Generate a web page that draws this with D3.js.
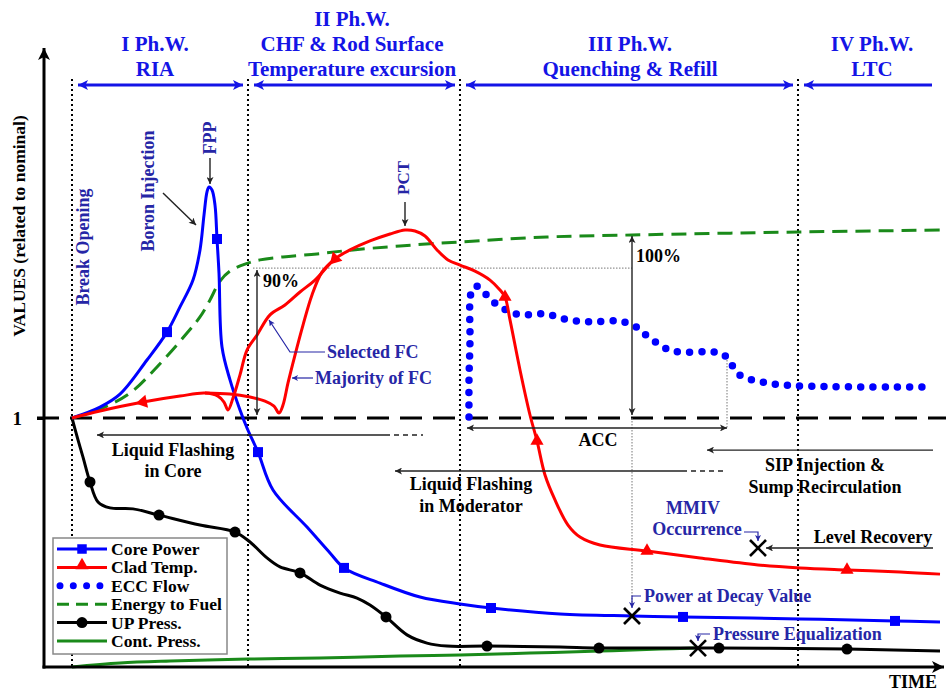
<!DOCTYPE html>
<html>
<head>
<meta charset="utf-8">
<script src="https://cdn.jsdelivr.net/npm/d3@7"></script>
<style>
  body { margin: 0; background: #fff; }
  svg { display: block; }
  text { font-family: "Liberation Serif", "Times New Roman", serif; font-weight: bold; }
</style>
</head>
<body>
<svg id="chart" width="946" height="694"></svg>
<script>
// ---- Series: [time (arb. units), value relative to nominal] ----
const corePower = [
  [7,1.000],[14,1.044],[19,1.096],[25.75,1.233],[30.75,1.345],[34,1.446],[37.25,1.554],
  [39,1.675],[40,1.815],[40.75,1.908],[41.25,1.928],[42,1.916],[42.75,1.855],[43.25,1.719],
  [43.75,1.582],[44.5,1.285],[46.5,1.153],[49,1.032],[50.75,0.960],[53.5,0.863],[57.25,0.711],
  [65.75,0.562],[71.5,0.458],[75,0.398],[84,0.337],[94,0.281],[104,0.253],[111.75,0.237],
  [129,0.213],[147,0.205],[159.75,0.201],[189,0.193],[212.75,0.185],[224,0.181]
];
const coreMarkers = [30.75, 43.25, 53.5, 75, 111.75, 159.75, 212.75];

const energyToFuel = [
  [7,1.000],[14,1.036],[21.5,1.100],[28.25,1.205],[35.75,1.341],[39,1.406],[41.5,1.474],
  [44,1.550],[46.5,1.590],[50.25,1.618],[54,1.635],[59.75,1.647],[68.25,1.659],[77.25,1.675],
  [89,1.691],[104,1.707],[125.75,1.727],[147,1.735],[188.5,1.747],[224,1.755]
];

// Clad temperature: selected fuel channel (continues into the common trend)
const cladSelected = [
  [7,1.000],[14,1.028],[24.75,1.064],[34,1.088],[40.25,1.100],[43.5,1.088],[45,1.064],
  [46,1.032],[47.25,1.080],[49,1.173],[50.75,1.273],[53.25,1.333],[56.5,1.414],[60.25,1.454],
  [64,1.506],[67.75,1.554],[72.75,1.639],[76.5,1.675],[81.5,1.711],[86.5,1.739],[90.25,1.755],
  [92.75,1.751],[95.25,1.731],[98.25,1.675],[101,1.635],[104,1.614],[107.75,1.590],
  [111.5,1.554],[114,1.514],[115.25,1.486],[116.5,1.394],[119,1.193],[121.5,1.012],
  [123.25,0.908],[125.25,0.771],[127.75,0.671],[131,0.570],[134,0.522],[139,0.490],
  [150.75,0.466],[164,0.438],[178.5,0.410],[189,0.398],[200.75,0.390],[214,0.382],[224,0.373]
];
// Clad temperature: majority of fuel channels (branch joining the common trend)
const cladMajority = [
  [40.25,1.100],[46.5,1.096],[51.5,1.084],[55.25,1.068],[57.5,1.048],[58.75,1.020],
  [59.75,1.052],[61,1.141],[62.75,1.253],[64.75,1.373],[67,1.494],[69.5,1.586],[72.75,1.639]
];
const cladMarkers = [24.75, 72.75, 115.25, 123.25, 150.75, 200.75];

const eccFlow = [
  [106.25,1.004],[106.25,1.153],[106.5,1.313],[106.5,1.474],[107,1.514],[108,1.530],
  [109.5,1.514],[111.5,1.478],[113.75,1.450],[116.5,1.426],[119.25,1.414],[125.25,1.418],
  [131,1.394],[137,1.386],[142.75,1.390],[145.75,1.382],[148.5,1.361],[150.75,1.329],
  [153.25,1.301],[155.75,1.277],[158.75,1.265],[167.75,1.265],[170,1.253],[171.5,1.225],
  [173.5,1.177],[176.25,1.157],[179.25,1.145],[182.25,1.137],[188.25,1.129],[221.5,1.124]
];

const upPress = [
  [7,1.000],[8.5,0.912],[9.75,0.843],[11.5,0.743],[13.5,0.663],[16.5,0.639],[22.25,0.635],
  [28.75,0.610],[39,0.570],[47.75,0.542],[51.5,0.502],[55.75,0.438],[59,0.402],[64,0.378],
  [69,0.329],[74,0.297],[78.25,0.277],[81.5,0.249],[85.5,0.201],[90.75,0.129],[95.75,0.096],
  [100.75,0.084],[110.75,0.084],[129,0.080],[138.75,0.076],[168.75,0.076],[200.75,0.072],[224,0.064]
];
const upMarkers = [11.5, 28.75, 47.75, 64, 85.5, 110.75, 138.75, 168.75, 200.75];

const contPress = [
  [7,0.000],[19,0.016],[31.5,0.024],[51,0.032],[69,0.036],[89,0.044],[104,0.048],
  [121.5,0.056],[139,0.064],[154,0.072],[162.75,0.076]
];

// Phase window boundaries (time) and titles
const phaseBounds = [7, 51, 104, 188.5];
const phaseTitles = [
  ["I Ph.W.", "RIA"],
  ["II Ph.W.", "CHF & Rod Surface", "Temperature excursion"],
  ["III Ph.W.", "Quenching & Refill"],
  ["IV Ph.W.", "LTC"]
];

// Events marked with a cross: [time, value]
const decayPoint = [147, 0.205];
const mmivPoint = [178.5, 0.478];
const pressEqPoint = [163.5, 0.076];

const yTicks = [1];
const legendItems = ["Core Power", "Clad Temp.", "ECC Flow", "Energy to Fuel", "UP Press.", "Cont. Press."];

// ---- Setup ----
const svg = d3.select("#chart");
const x = d3.scaleLinear().domain([0, 225]).range([44, 944]);
const y = d3.scaleLinear().domain([0, 2.49]).range([667, 47]);

const BLUE = "#0000ff", RED = "#ff0000", GREEN = "#1a8a1a", NAVY = "#2626a6", HEAD = "#1414e6";

const defs = svg.append("defs");
function arrowMarker(id, color, w, h) {
  defs.append("marker")
    .attr("id", id).attr("viewBox", "0 0 10 10")
    .attr("refX", 10).attr("refY", 5)
    .attr("markerWidth", w).attr("markerHeight", h)
    .attr("markerUnits", "userSpaceOnUse")
    .attr("orient", "auto-start-reverse")
    .append("path").attr("d", "M0,0L10,5L0,10L2.5,5Z").attr("fill", color);
}
arrowMarker("arrK", "#222", 9, 7);
arrowMarker("arrN", NAVY, 8, 6);
arrowMarker("arrB", HEAD, 13, 10);
arrowMarker("arrAx", "#000", 14, 12);

svg.append("rect").attr("width", 946).attr("height", 694).attr("fill", "#fff");

const line = d3.line().x(d => x(d[0])).y(d => y(d[1])).curve(d3.curveCatmullRom.alpha(0.5));
const at = (arr, t) => arr.find(d => d[0] === t);

// ---- Phase separators ----
const plotTop = 79;
svg.append("g").selectAll("line").data(phaseBounds).join("line")
  .attr("x1", d => x(d)).attr("x2", d => x(d))
  .attr("y1", plotTop).attr("y2", y(0))
  .attr("stroke", "#000").attr("stroke-width", 2).attr("stroke-dasharray", "2 3");

// ---- Nominal level ----
svg.append("line")
  .attr("x1", x(0) - 7).attr("x2", 946).attr("y1", y(1)).attr("y2", y(1))
  .attr("stroke", "#000").attr("stroke-width", 3).attr("stroke-dasharray", "22 11");

// ---- Thin guide lines ----
const guide = svg.append("g").attr("stroke", "#777").attr("stroke-width", 1).attr("stroke-dasharray", "1.5 1.5").attr("fill", "none");
guide.append("line").attr("x1", x(52.25)).attr("x2", x(147)).attr("y1", y(1.602)).attr("y2", y(1.602));
guide.append("line").attr("x1", x(147)).attr("x2", x(147)).attr("y1", y(1)).attr("y2", y(decayPoint[1]) - 10);
guide.append("line").attr("x1", x(170.75)).attr("x2", x(170.75)).attr("y1", y(1.245)).attr("y2", y(0.96));

// ---- Series ----
svg.append("path").attr("d", line(contPress)).attr("fill", "none").attr("stroke", GREEN).attr("stroke-width", 3);
svg.append("path").attr("d", line(upPress)).attr("fill", "none").attr("stroke", "#000").attr("stroke-width", 3);
svg.append("g").selectAll("circle").data(upMarkers.map(t => at(upPress, t))).join("circle")
  .attr("cx", d => x(d[0])).attr("cy", d => y(d[1])).attr("r", 5.5).attr("fill", "#000");

svg.append("path").attr("d", line(energyToFuel)).attr("fill", "none").attr("stroke", GREEN)
  .attr("stroke-width", 3).attr("stroke-dasharray", "15 8");

svg.append("path").attr("d", line(corePower)).attr("fill", "none").attr("stroke", BLUE).attr("stroke-width", 3);
svg.append("g").selectAll("path").data(coreMarkers.map(t => at(corePower, t))).join("path")
  .attr("d", d3.symbol(d3.symbolSquare, 100)())
  .attr("transform", d => `translate(${x(d[0])},${y(d[1])})`).attr("fill", BLUE);

svg.append("path").attr("d", line(eccFlow)).attr("fill", "none").attr("stroke", BLUE)
  .attr("stroke-width", 7.5).attr("stroke-linecap", "round").attr("stroke-dasharray", "0 12.2");

svg.append("path").attr("d", line(cladMajority)).attr("fill", "none").attr("stroke", RED).attr("stroke-width", 3);
svg.append("path").attr("d", line(cladSelected)).attr("fill", "none").attr("stroke", RED).attr("stroke-width", 3);
svg.append("g").selectAll("path").data(cladMarkers).join("path")
  .attr("d", d3.symbol(d3.symbolTriangle, 75)())
  .attr("fill", RED)
  .attr("transform", (t, i) => {
    const k = cladSelected.findIndex(d => d[0] === t);
    const p = cladSelected[k];
    let rot = 0;
    if (i < 2) { // early markers point back along the heating path
      const q = cladSelected[k - 1];
      const ang = Math.atan2(y(q[1]) - y(p[1]), x(q[0]) - x(p[0])) * 180 / Math.PI;
      rot = ang + 90;
    }
    return `translate(${x(p[0])},${y(p[1])}) rotate(${rot})`;
  });

// ---- Axes ----
svg.append("line").attr("x1", x(0)).attr("x2", x(0)).attr("y1", y(0) + 1.5).attr("y2", y(2.49) + 1)
  .attr("stroke", "#000").attr("stroke-width", 3).attr("marker-end", "url(#arrAx)");
svg.append("line").attr("x1", x(0) - 1.5).attr("x2", x(225)).attr("y1", y(0)).attr("y2", y(0))
  .attr("stroke", "#000").attr("stroke-width", 3).attr("marker-end", "url(#arrAx)");
const yAxis = svg.append("g").attr("transform", `translate(${x(0)},0)`)
  .call(d3.axisLeft(y).tickValues(yTicks).tickSize(7).tickPadding(15).tickFormat(d3.format("d")));
yAxis.select(".domain").remove();
yAxis.selectAll(".tick line").attr("stroke", "#000").attr("stroke-width", 3);
yAxis.selectAll(".tick text").attr("font-size", 19).attr("fill", "#000")
  .attr("font-family", "Liberation Serif, serif").attr("font-weight", "bold");

function txt(g, px, py, s, o = {}) {
  const t = g.append("text").attr("x", px).attr("y", py).text(s)
    .attr("font-size", o.size || 18).attr("fill", o.fill || "#000")
    .attr("text-anchor", o.anchor || "start");
  if (o.weight) t.attr("font-weight", o.weight);
  if (o.rotate) t.attr("transform", `rotate(${o.rotate},${px},${py})`);
  return t;
}
const ann = svg.append("g");
txt(ann, 25, 226, "VALUES (related to nominal)", { anchor: "middle", rotate: -90, size: 17.5 });
txt(ann, 937, 688, "TIME", { anchor: "end", size: 18 });

// ---- Phase headers ----
const headCenters = [155, 352, 630, 872];
phaseTitles.forEach((lines, i) => {
  const base = 76 - (lines.length - 1) * 25;
  lines.forEach((s, j) => txt(ann, headCenters[i], base + j * 25, s, { anchor: "middle", size: 21, fill: HEAD }));
});
const phaseArrows = [[7, 51, true], [51, 104, true], [104, 188.5, true], [188.5, 222, false]];
svg.append("g").selectAll("line").data(phaseArrows).join("line")
  .attr("x1", d => x(d[0]) + 6).attr("x2", d => d[2] ? x(d[1]) - 5 : x(d[1]))
  .attr("y1", 85).attr("y2", 85)
  .attr("stroke", HEAD).attr("stroke-width", 3)
  .attr("marker-start", "url(#arrB)")
  .attr("marker-end", d => d[2] ? "url(#arrB)" : null);

// ---- Thin annotation arrows ----
function arrow(x1, y1, x2, y2, both, color = "#222", mk = "arrK") {
  const l = svg.append("line").attr("x1", x1).attr("y1", y1).attr("x2", x2).attr("y2", y2)
    .attr("stroke", color).attr("stroke-width", 1.4).attr("marker-end", `url(#${mk})`);
  if (both) l.attr("marker-start", `url(#${mk})`);
  return l;
}
// 90 % and 100 % of energy to fuel
arrow(x(53.25), y(1.594), x(53.25), y(1) - 3, true);
txt(ann, 263, 287, "90%", { size: 18 });
arrow(x(147), y(1.735) + 1, x(147), y(1) - 3, true);
txt(ann, 636, 262, "100%", { size: 18 });
// ACC window
arrow(x(105.75), y(0.96), x(170.75), y(0.96), true);
txt(ann, 598, 446, "ACC", { anchor: "middle" });
// Liquid flashing in core
arrow(x(85.25), y(0.932), x(13.25), y(0.932), false);
svg.append("line").attr("x1", x(85.25)).attr("x2", x(94.75)).attr("y1", y(0.932)).attr("y2", y(0.932))
  .attr("stroke", "#222").attr("stroke-width", 1.4).attr("stroke-dasharray", "5 4");
txt(ann, 173, 456, "Liquid Flashing", { anchor: "middle" });
txt(ann, 173, 477, "in Core", { anchor: "middle" });
// Liquid flashing in moderator
arrow(x(159.5), y(0.787), x(87.75), y(0.787), false);
svg.append("line").attr("x1", x(159.5)).attr("x2", x(169.75)).attr("y1", y(0.787)).attr("y2", y(0.787))
  .attr("stroke", "#222").attr("stroke-width", 1.4).attr("stroke-dasharray", "5 4");
txt(ann, 471, 490, "Liquid Flashing", { anchor: "middle" });
txt(ann, 471, 512, "in Moderator", { anchor: "middle" });
// SIP injection
arrow(x(222.25), y(0.871), x(165.75), y(0.871), false);
txt(ann, 825, 471, "SIP Injection &", { anchor: "middle" });
txt(ann, 825, 493, "Sump Recirculation", { anchor: "middle" });
// Level recovery
arrow(x(222.25), y(mmivPoint[1]), x(mmivPoint[0]) + 8, y(mmivPoint[1]), false);
txt(ann, 873, 543, "Level Recovery", { anchor: "middle" });

// Vertical event labels
txt(ann, 89, 247, "Break Opening", { anchor: "middle", rotate: -90, fill: NAVY, size: 18 });
txt(ann, 154, 191, "Boron Injection", { anchor: "middle", rotate: -90, fill: NAVY, size: 18 });
arrow(163, 193, 196, 225, false);
txt(ann, 216, 138, "FPP", { anchor: "middle", rotate: -90, fill: NAVY, size: 18 });
arrow(x(41.5), 158, x(41.5), y(1.928) - 3, false);
txt(ann, 409, 178, "PCT", { anchor: "middle", rotate: -90, fill: NAVY, size: 17 });
arrow(x(90.25), 202, x(90.25), y(1.755) - 4, false);

// Selected / majority fuel channels
const nav = svg.append("g").attr("fill", "none").attr("stroke", NAVY).attr("stroke-width", 1.2);
nav.append("path").attr("d", "M325,352H290L269,320").attr("marker-end", "url(#arrN)");
txt(ann, 327, 358, "Selected FC", { fill: NAVY });
nav.append("path").attr("d", "M313,378H292").attr("marker-end", "url(#arrN)");
txt(ann, 315, 384, "Majority of FC", { fill: NAVY });

// Events with crosses
const crosses = [decayPoint, mmivPoint, pressEqPoint];
const cg = svg.append("g").attr("stroke", "#000").attr("stroke-width", 2.6);
crosses.forEach(p => {
  const cx = x(p[0]), cy = y(p[1]);
  cg.append("line").attr("x1", cx - 8).attr("x2", cx + 8).attr("y1", cy - 8).attr("y2", cy + 8);
  cg.append("line").attr("x1", cx - 8).attr("x2", cx + 8).attr("y1", cy + 8).attr("y2", cy - 8);
});
// callouts to the crosses
nav.append("path").attr("d", `M${x(decayPoint[0]) + 9},596H${x(decayPoint[0])}V${y(decayPoint[1]) - 8}`).attr("marker-end", "url(#arrN)");
txt(ann, 644, 602, "Power at Decay Value", { fill: NAVY });
nav.append("path").attr("d", `M${x(pressEqPoint[0]) + 12},634H${x(pressEqPoint[0])}V${y(pressEqPoint[1]) - 7}`).attr("marker-end", "url(#arrN)");
txt(ann, 713, 640, "Pressure Equalization", { fill: NAVY });
nav.append("path").attr("d", `M744,532H${x(mmivPoint[0])}V${y(mmivPoint[1]) - 7}`).attr("marker-end", "url(#arrN)");
txt(ann, 693, 514, "MMIV", { anchor: "middle", fill: NAVY });
txt(ann, 697, 535, "Occurrence", { anchor: "middle", fill: NAVY });

// ---- Legend ----
const lg = svg.append("g").attr("transform", "translate(53,538)");
lg.append("rect").attr("width", 174).attr("height", 116).attr("fill", "#fff").attr("stroke", "#888").attr("stroke-width", 1.5);
const rowY = i => 11 + i * 18.4;
const sw = lg.append("g");
// Core power
sw.append("line").attr("x1", 4).attr("x2", 54).attr("y1", rowY(0)).attr("y2", rowY(0)).attr("stroke", BLUE).attr("stroke-width", 3);
sw.append("path").attr("d", d3.symbol(d3.symbolSquare, 90)()).attr("transform", `translate(29,${rowY(0)})`).attr("fill", BLUE);
// Clad temp
sw.append("line").attr("x1", 4).attr("x2", 54).attr("y1", rowY(1)).attr("y2", rowY(1)).attr("stroke", RED).attr("stroke-width", 3);
sw.append("path").attr("d", d3.symbol(d3.symbolTriangle, 75)()).attr("transform", `translate(29,${rowY(1) - 2})`).attr("fill", RED);
// ECC
sw.append("line").attr("x1", 7).attr("x2", 54).attr("y1", rowY(2)).attr("y2", rowY(2)).attr("stroke", BLUE)
  .attr("stroke-width", 7).attr("stroke-linecap", "round").attr("stroke-dasharray", "0 13.3");
// Energy
sw.append("line").attr("x1", 4).attr("x2", 54).attr("y1", rowY(3)).attr("y2", rowY(3)).attr("stroke", GREEN)
  .attr("stroke-width", 3).attr("stroke-dasharray", "12 7");
// UP press
sw.append("line").attr("x1", 4).attr("x2", 54).attr("y1", rowY(4)).attr("y2", rowY(4)).attr("stroke", "#000").attr("stroke-width", 3);
sw.append("circle").attr("cx", 29).attr("cy", rowY(4)).attr("r", 5.5).attr("fill", "#000");
// Cont press
sw.append("line").attr("x1", 4).attr("x2", 54).attr("y1", rowY(5)).attr("y2", rowY(5)).attr("stroke", GREEN).attr("stroke-width", 3);
lg.selectAll("text.lbl").data(legendItems).join("text").attr("class", "lbl")
  .attr("x", 58).attr("y", (d, i) => rowY(i) + 6).attr("font-size", 17.5).attr("fill", "#000").text(d => d);
</script>
</body>
</html>
